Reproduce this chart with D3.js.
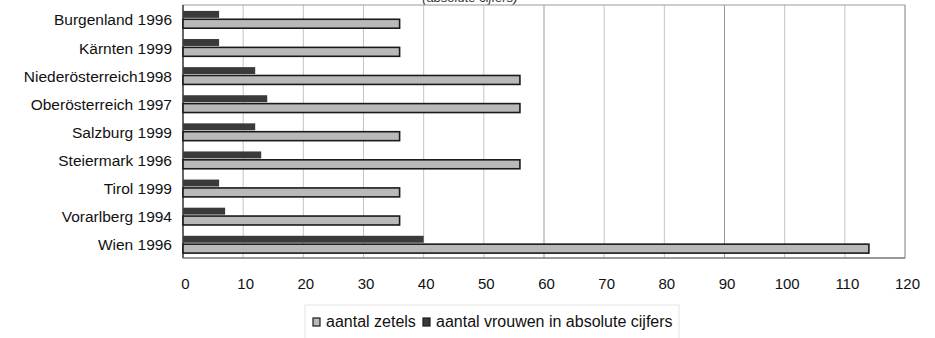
<!DOCTYPE html>
<html><head><meta charset="utf-8">
<script src="https://cdn.jsdelivr.net/npm/d3@7"></script>
<style>body{margin:0;background:#fff}svg{display:block}text{font-family:"Liberation Sans",Arial,sans-serif}</style>
</head><body><svg id="c" width="935" height="338"></svg>
<script>
const categories = ["Burgenland 1996","Kärnten 1999","Niederösterreich1998","Oberösterreich 1997","Salzburg 1999","Steiermark 1996","Tirol 1999","Vorarlberg 1994","Wien 1996"];
const zetels = [36,36,56,56,36,56,36,36,114];
const vrouwen = [6,6,12,14,12,13,6,7,40];
const xTicks = [0,10,20,30,40,50,60,70,80,90,100,110,120];
const seriesNames = ["aantal zetels","aantal vrouwen in absolute cijfers"];

const svg = d3.select("#c");
const L=183, R=905, T=5, B=258;
const x = d3.scaleLinear().domain([0,120]).range([L,R]);
const y = d3.scaleBand().domain(categories).range([T,B]).paddingInner(0.42).paddingOuter(0.21);
const sub = d3.scaleBand().domain(["v","z"]).range([0,y.bandwidth()]).paddingInner(0.05);

// title fragment (cut off at top in the reference)
svg.append("text").attr("x",470).attr("y",2).attr("text-anchor","middle")
  .attr("font-size",13).attr("font-style","italic").attr("fill","#333").text("(absolute cijfers)");

// gridlines
svg.append("g").selectAll("line").data(xTicks.slice(1)).join("line")
  .attr("x1",d=>x(d)).attr("x2",d=>x(d)).attr("y1",T).attr("y2",B)
  .attr("stroke",d=>(d===60||d===90)?"#9a9a9a":"#c4c4c4").attr("stroke-width",1);
// frame
svg.append("rect").attr("x",L).attr("y",T).attr("width",R-L).attr("height",B-T)
  .attr("fill","none").attr("stroke","#9a9a9a").attr("stroke-width",1);
svg.append("line").attr("x1",L).attr("x2",L).attr("y1",T).attr("y2",B).attr("stroke","#222").attr("stroke-width",1.2);
svg.append("line").attr("x1",L).attr("x2",R).attr("y1",B).attr("y2",B).attr("stroke","#666").attr("stroke-width",1.2);

// bars
svg.append("g").selectAll("rect").data(categories).join("rect")
  .attr("x",x(0)).attr("y",(d)=>y(d)+sub("v"))
  .attr("width",(d,i)=>x(vrouwen[i])-x(0)).attr("height",sub.bandwidth()-1)
  .attr("fill","#3a3a3a");
svg.append("g").selectAll("rect").data(categories).join("rect")
  .attr("x",x(0)).attr("y",(d)=>y(d)+sub("z"))
  .attr("width",(d,i)=>x(zetels[i])-x(0)).attr("height",sub.bandwidth()+1)
  .attr("fill","#b9b9b9").attr("stroke","#1a1a1a").attr("stroke-width",1.6);

// category labels
svg.append("g").selectAll("text").data(categories).join("text")
  .attr("x",172).attr("y",d=>y(d)+y.bandwidth()/2+1).attr("dy","0.35em")
  .attr("text-anchor","end").attr("font-size",15.5).attr("fill","#111").text(d=>d);

// x axis labels
const xa = d3.axisBottom(x).tickValues(xTicks).tickSize(0).tickPadding(0);
const gx = svg.append("g").attr("transform",`translate(2,${B+20})`).call(xa);
gx.select(".domain").remove();
gx.selectAll("text").attr("font-size",15).attr("fill","#111").attr("font-family","Liberation Sans, Arial, sans-serif");

// legend
const lg = svg.append("g");
lg.append("rect").attr("x",305).attr("y",305).attr("width",374).attr("height",40)
  .attr("fill","none").attr("stroke","#e4e4e4");
const lx=[313,423], tx=[326,436], colors=["#b9b9b9","#3a3a3a"];
seriesNames.forEach((s,i)=>{
  lg.append("rect").attr("x",lx[i]).attr("y",318).attr("width",7).attr("height",8)
    .attr("fill",colors[i]).attr("stroke","#1a1a1a").attr("stroke-width",1.2);
  lg.append("text").attr("x",tx[i]).attr("y",327).attr("font-size",16).attr("fill","#111").text(s);
});
</script></body></html>
